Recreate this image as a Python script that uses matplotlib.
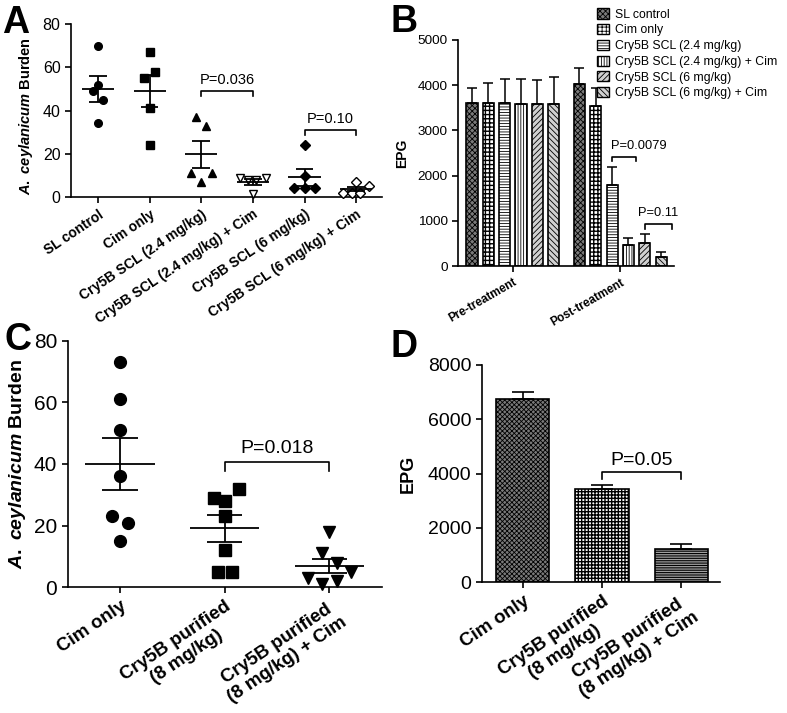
import matplotlib
matplotlib.use("Agg")
import matplotlib.pyplot as plt
from matplotlib.patches import Patch
import numpy as np

plt.rcParams['font.family'] = ['Liberation Sans', 'DejaVu Sans']
plt.rcParams['mathtext.fontset'] = 'custom'
plt.rcParams['mathtext.it'] = 'Liberation Sans:italic:bold'
plt.rcParams['mathtext.rm'] = 'Liberation Sans:bold'
plt.rcParams['hatch.linewidth'] = 0.6
plt.rcParams['axes.linewidth'] = 1.2

## data, panel A (worm burden, SCL)
A_GROUPS = ["SL control", "Cim only", "Cry5B SCL (2.4 mg/kg)",
            "Cry5B SCL (2.4 mg/kg) + Cim", "Cry5B SCL (6 mg/kg)",
            "Cry5B SCL (6 mg/kg) + Cim"]
a_sl = [70, 52, 49, 45, 34]
a_cim = [67, 58, 55, 41, 24]
a_scl24 = [37, 33, 11, 11, 7]
a_scl24_cim = [9, 8, 8, 9, 1.5]
a_scl6 = [24, 9.5, 4, 4, 4]
a_scl6_cim = [7, 5, 2, 2, 2]
A_PVALS = ["P=0.036", "P=0.10"]

## data, panel B (EPG, SCL)
B_LABELS = ["SL control", "Cim only", "Cry5B SCL (2.4 mg/kg)",
            "Cry5B SCL (2.4 mg/kg) + Cim", "Cry5B SCL (6 mg/kg)",
            "Cry5B SCL (6 mg/kg) + Cim"]
B_TIMES = ["Pre-treatment", "Post-treatment"]
b_pre = [3600, 3600, 3600, 3590, 3590, 3580]
b_pre_err = [330, 440, 530, 540, 525, 610]
b_post = [4030, 3540, 1790, 470, 510, 190]
b_post_err = [340, 390, 390, 140, 190, 110]
B_PVALS = ["P=0.0079", "P=0.11"]

## data, panel C (worm burden, purified)
C_GROUPS = ["Cim only", "Cry5B purified\n(8 mg/kg)", "Cry5B purified\n(8 mg/kg) + Cim"]
c_cim = [73, 61, 51, 36, 23, 21, 15]
c_pur = [32, 29, 28, 23, 12, 5, 5]
c_pur_cim = [18, 11, 8, 5, 3, 1, 2]
C_PVAL = "P=0.018"

## data, panel D (EPG, purified)
D_GROUPS = C_GROUPS
d_epg = [6730, 3440, 1240]
d_err = [280, 160, 170]
D_PVAL = "P=0.05"

# horizontal scatter offsets (layout only)
JIT_A = [[0, 0, -0.1, 0.1, 0],
         [0, 0.1, -0.1, 0, 0],
         [-0.1, 0.1, -0.2, 0.2, 0],
         [-0.25, -0.1, 0.07, 0.25, 0],
         [0, 0, -0.2, 0, 0.2],
         [0, 0.24, -0.25, -0.08, 0.08]]
JIT_C = [[0, 0, 0, 0, -0.08, 0.08, 0],
         [0.14, -0.1, 0.0, 0, 0, -0.065, 0.07],
         [0, -0.07, 0.07, 0.21, -0.2, -0.07, 0.07]]

# bar styles: facecolor, hatch, hatch linewidth
B_STYLES = [("#7a7a7a", "xxxxxx", 0.6), ("white", "++++", 1.0),
            ("white", "------", 0.6), ("white", "||||||", 0.6),
            ("#d0d0d0", "//////", 0.6), ("#d0d0d0", "\\\\\\\\\\\\", 0.6)]
D_STYLES = [("#7a7a7a", "xxxxxxx", 0.6), ("white", "+++++", 1.0),
            ("#a0a0a0", "-------", 0.8)]


def set_hatch_lw(patches, lw):
    for p in patches:
        if hasattr(p, "set_hatch_linewidth"):
            p.set_hatch_linewidth(lw)


def style_axes(ax, tick_size):
    for s in ["top", "right"]:
        ax.spines[s].set_visible(False)
    ax.tick_params(axis="both", direction="out", length=4, width=1.2,
                   labelsize=tick_size)


def bracket(ax, x1, x2, y, drop, text, size, tx=None, ha="center", ty=None):
    ax.plot([x1, x1, x2, x2], [y - drop, y, y, y - drop], color="black", lw=1.2,
            clip_on=False)
    if tx is None:
        tx = (x1 + x2) / 2
    ax.text(tx, ty, text, ha=ha, va="bottom", fontsize=size)


def dot_plot(ax, groups, jitter, markers, msize, mean_w, sem_w):
    for i, vals in enumerate(groups):
        vals = np.array(vals, dtype=float)
        m, fill = markers[i]
        ax.plot(i + np.array(jitter[i]), vals, linestyle="none", marker=m,
                markersize=msize, markerfacecolor="black" if fill else "white",
                markeredgecolor="black", markeredgewidth=1.0, clip_on=False, zorder=3)
        mean = vals.mean()
        sem = vals.std(ddof=1) / np.sqrt(len(vals))
        ax.hlines(mean, i - mean_w, i + mean_w, color="black", lw=1.3, zorder=4)
        ax.hlines([mean - sem, mean + sem], i - sem_w, i + sem_w, color="black",
                  lw=1.3, zorder=4)
        ax.vlines(i, mean - sem, mean + sem, color="black", lw=1.3, zorder=4)


fig = plt.figure(figsize=(7.87, 7.13), dpi=100)

# ---------------- A ----------------
axA = fig.add_axes([0.0902, 0.7237, 0.3952, 0.2426])
dot_plot(axA, [a_sl, a_cim, a_scl24, a_scl24_cim, a_scl6, a_scl6_cim], JIT_A,
         [("o", True), ("s", True), ("^", True), ("v", False), ("D", True), ("D", False)],
         5.5, 0.31, 0.17)
axA.set_xlim(-0.52, 5.5)
axA.set_ylim(0, 80)
axA.set_yticks([0, 20, 40, 60, 80])
style_axes(axA, 11.5)
axA.set_xticks(range(len(A_GROUPS)))
axA.set_xticklabels(A_GROUPS, rotation=34, ha="right", rotation_mode="anchor",
                    fontweight="bold", fontsize=10)
axA.set_ylabel(r"$\mathit{A.\ ceylanicum}$ Burden", fontsize=10.5,
               fontweight="bold", labelpad=4)
axA.yaxis.set_label_coords(-0.115, 0.47)
bracket(axA, 2, 3, 49, 2.5, A_PVALS[0], 10.5, ty=51)
bracket(axA, 4, 5, 31, 2.5, A_PVALS[1], 10.5, ty=33)

# ---------------- B ----------------
axB = fig.add_axes([0.582, 0.6269, 0.2744, 0.3170])
step, width = 0.152, 0.103
for i in range(6):
    xs = np.array([0, 1]) + (i - 2.5) * step
    face, hatch, hlw = B_STYLES[i]
    bars = axB.bar(xs, [b_pre[i], b_post[i]], width=width, color=face, hatch=hatch,
                   edgecolor="black", linewidth=1.2, zorder=2)
    set_hatch_lw(bars, hlw)
    axB.errorbar(xs, [b_pre[i], b_post[i]],
                 yerr=[[0, 0], [b_pre_err[i], b_post_err[i]]],
                 fmt="none", ecolor="black", elinewidth=1.1, capsize=3.5,
                 capthick=1.1, zorder=3)
axB.set_xlim(-0.51, 1.5)
axB.set_ylim(0, 5000)
axB.set_yticks([0, 1000, 2000, 3000, 4000, 5000])
style_axes(axB, 9.7)
axB.set_xticks([0, 1])
axB.set_xticklabels(B_TIMES, rotation=30, ha="right", rotation_mode="anchor",
                    fontweight="bold", fontsize=8.5)
axB.set_ylabel("EPG", fontsize=10, fontweight="bold", labelpad=6)
x3 = 1 + (2 - 2.5) * step
x4 = 1 + (3 - 2.5) * step
x5 = 1 + (4 - 2.5) * step
x6 = 1 + (5 - 2.5) * step
bracket(axB, x3, x4 + 0.07, 2420, 90, B_PVALS[0], 9.3, tx=x3 - 0.01, ha="left", ty=2530)
bracket(axB, x5, x6 + 0.1, 920, 90, B_PVALS[1], 9.3, ty=1030)
handles = []
for f, h, hlw in B_STYLES:
    p = Patch(facecolor=f, hatch=h, edgecolor="black", linewidth=1.0)
    set_hatch_lw([p], hlw)
    handles.append(p)
fig.legend(handles, B_LABELS, loc="upper left", bbox_to_anchor=(0.752, 0.995),
           frameon=False, fontsize=8.8, handlelength=1.0, handleheight=0.9,
           handletextpad=0.5, labelspacing=0.28, borderaxespad=0)

# ---------------- C ----------------
axC = fig.add_axes([0.086, 0.1763, 0.399, 0.3461])
dot_plot(axC, [c_cim, c_pur, c_pur_cim], JIT_C,
         [("o", True), ("s", True), ("v", True)], 8.5, 0.33, 0.17)
axC.set_xlim(-0.5, 2.5)
axC.set_ylim(0, 80)
axC.set_yticks([0, 20, 40, 60, 80])
style_axes(axC, 15)
axC.set_xticks(range(3))
axC.set_xticklabels(C_GROUPS, rotation=34, ha="right", rotation_mode="anchor",
                    fontweight="bold", fontsize=13.5, multialignment="center")
axC.set_ylabel(r"$\mathit{A.\ ceylanicum}$ Burden", fontsize=14,
               fontweight="bold", labelpad=4)
bracket(axC, 1, 2, 40.5, 2.8, C_PVAL, 14, ty=42.3)

# ---------------- D ----------------
axD = fig.add_axes([0.612, 0.1833, 0.3029, 0.3048])
for i in range(3):
    face, hatch, hlw = D_STYLES[i]
    bars = axD.bar(i, d_epg[i], width=0.67, color=face, hatch=hatch,
                   edgecolor="black", linewidth=1.2, zorder=2)
    set_hatch_lw(bars, hlw)
axD.errorbar(range(3), d_epg, yerr=[[0, 0, 0], d_err], fmt="none", ecolor="black",
             elinewidth=1.2, capsize=8, capthick=1.2, zorder=3)
axD.set_xlim(-0.52, 2.49)
axD.set_ylim(0, 8000)
axD.set_yticks([0, 2000, 4000, 6000, 8000])
style_axes(axD, 14)
axD.set_xticks(range(3))
axD.set_xticklabels(D_GROUPS, rotation=34, ha="right", rotation_mode="anchor",
                    fontweight="bold", fontsize=13.5, multialignment="center")
axD.set_ylabel("EPG", fontsize=13, fontweight="bold", labelpad=8)
bracket(axD, 1, 2, 4050, 260, D_PVAL, 14, ty=4180)

# panel letters
for lab, x, y in [("A", 0.002, 0.9537), ("B", 0.496, 0.955),
                  ("C", 0.006, 0.509), ("D", 0.496, 0.4993)]:
    fig.text(x, y, lab, fontsize=27, fontweight="bold", ha="left", va="baseline")

fig.savefig("out.png", dpi=100)
